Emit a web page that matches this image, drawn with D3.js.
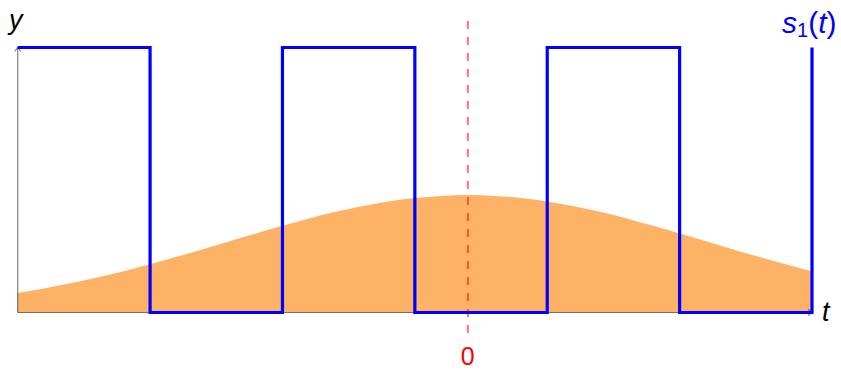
<!DOCTYPE html>
<html>
<head>
<meta charset="utf-8">
<script src="https://cdn.jsdelivr.net/npm/d3@7"></script>
<style>
  html, body { margin: 0; padding: 0; background: #fff; }
  svg { display: block; }
  text { font-family: "Liberation Sans", Arial, sans-serif; }
</style>
</head>
<body>
<svg id="chart" width="841" height="371"></svg>
<script>
// Square wave s1(t): switching instants and the level that starts at each one
const waveT      = [-3.4, -2.4, -1.4, -0.4, 0.6, 1.6, 2.6];
const waveLevel  = [1, 0, 1, 0, 1, 0, 1];

// Bell-shaped window sampled along t
const bellT = [-3.4, -3.2, -3.0, -2.8, -2.6, -2.4, -2.2, -2.0, -1.8, -1.6, -1.4,
               -1.2, -1.0, -0.8, -0.6, -0.4, -0.2, 0.0, 0.2, 0.4, 0.6, 0.8,
               1.0, 1.2, 1.4, 1.6, 1.8, 2.0, 2.2, 2.4, 2.6];
const bellY = [0.074, 0.091, 0.110, 0.132, 0.156, 0.182, 0.210, 0.239, 0.269, 0.298, 0.327,
               0.355, 0.380, 0.401, 0.419, 0.432, 0.440, 0.443, 0.440, 0.432, 0.419, 0.401,
               0.380, 0.355, 0.327, 0.298, 0.269, 0.239, 0.210, 0.182, 0.156];

// Marked instant on the t axis
const markT = [0];
const markLabels = ["0"];

const svg = d3.select("#chart");

const x = d3.scaleLinear().domain([-3.4, 2.6]).range([17.7, 812]);
const y = d3.scaleLinear().domain([0, 1]).range([312.5, 47.5]);

// Window area
const bell = bellT.map((t, i) => ({ t, v: bellY[i] }));
svg.append("path")
  .datum(bell)
  .attr("fill", "#fdb266")
  .attr("d", d3.area()
    .x(d => x(d.t))
    .y0(y(0))
    .y1(d => y(d.v))
    .curve(d3.curveMonotoneX));

// Axes with small open arrowheads
const axes = svg.append("g")
  .attr("stroke", "#000")
  .attr("stroke-opacity", 0.5)
  .attr("stroke-width", 1.2)
  .attr("fill", "none");
axes.append("line")
  .attr("x1", x(-3.4)).attr("y1", y(0))
  .attr("x2", x(2.6)).attr("y2", y(0));
axes.append("line")
  .attr("x1", x(-3.4)).attr("y1", y(0))
  .attr("x2", x(-3.4)).attr("y2", y(1));
axes.append("path")
  .attr("d", `M${x(2.6) - 4},${y(0) - 3} L${x(2.6)},${y(0)} L${x(2.6) - 4},${y(0) + 3}`);
axes.append("path")
  .attr("d", `M${x(-3.4) - 3},${y(1) + 4} L${x(-3.4)},${y(1)} L${x(-3.4) + 3},${y(1) + 4}`);

// Reference instant, dashed
svg.selectAll("line.mark")
  .data(markT)
  .join("line")
  .attr("class", "mark")
  .attr("x1", d => x(d)).attr("x2", d => x(d))
  .attr("y1", 21).attr("y2", 334)
  .attr("stroke", "red")
  .attr("stroke-opacity", 0.55)
  .attr("stroke-width", 2)
  .attr("stroke-dasharray", "8 8");

svg.selectAll("text.mark")
  .data(markT)
  .join("text")
  .attr("class", "mark")
  .attr("x", d => x(d))
  .attr("y", 365)
  .attr("text-anchor", "middle")
  .attr("font-size", 25)
  .attr("fill", "red")
  .text((d, i) => markLabels[i]);

// Square wave
const wave = waveT.map((t, i) => ({ t, v: waveLevel[i] }));
svg.append("path")
  .datum(wave)
  .attr("fill", "none")
  .attr("stroke", "#0000ff")
  .attr("stroke-width", 3.2)
  .attr("d", d3.line()
    .x(d => x(d.t))
    .y(d => y(d.v))
    .curve(d3.curveStepAfter));

// Axis names
svg.append("text")
  .attr("x", 9).attr("y", 29)
  .attr("font-size", 27)
  .attr("font-style", "italic")
  .text("y");
svg.append("text")
  .attr("x", 822).attr("y", 321)
  .attr("font-size", 27)
  .attr("font-style", "italic")
  .text("t");

// Series label s1(t)
const lab = svg.append("text")
  .attr("x", 782).attr("y", 33)
  .attr("font-size", 30)
  .attr("fill", "#0000ff");
lab.append("tspan").attr("font-style", "italic").text("s");
lab.append("tspan").attr("font-size", 20).attr("dy", 4).text("1");
lab.append("tspan").attr("dy", -4).text("(");
lab.append("tspan").attr("font-style", "italic").text("t");
lab.append("tspan").text(")");
</script>
</body>
</html>
